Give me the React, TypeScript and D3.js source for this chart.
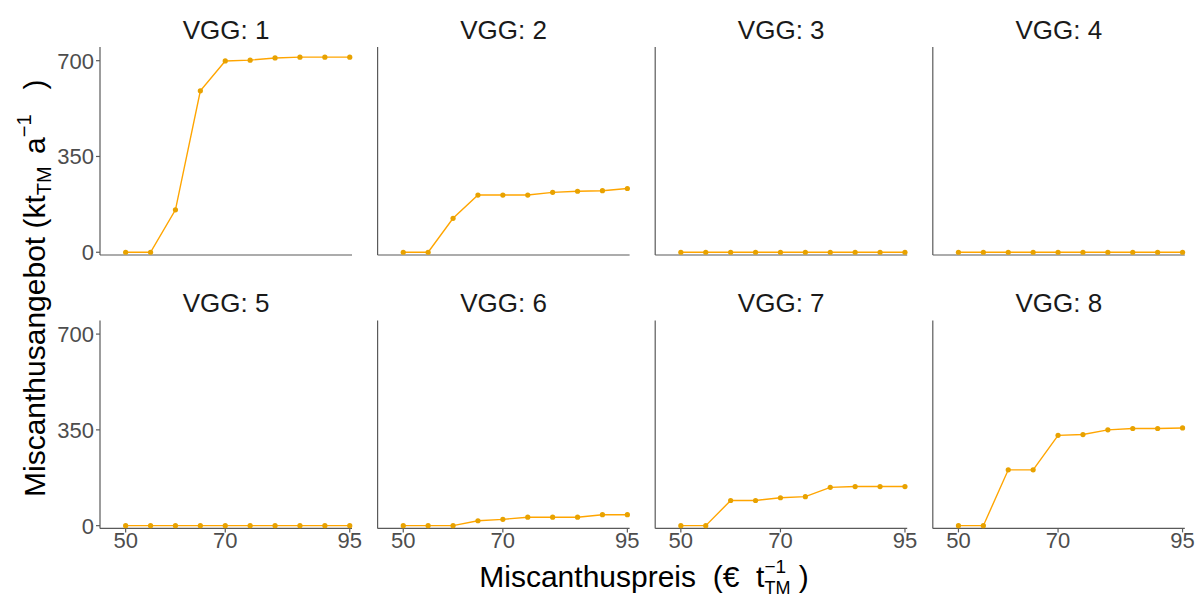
import React from "react";
import * as d3 from "d3";

const prices = [50, 55, 60, 65, 70, 75, 80, 85, 90, 95];
const vgg1 = [0, 0, 155, 590, 699, 702, 710, 713, 713, 713];
const vgg2 = [0, 0, 124, 209, 209, 209, 219, 223, 225, 233];
const vgg3 = [0, 0, 0, 0, 0, 0, 0, 0, 0, 0];
const vgg4 = [0, 0, 0, 0, 0, 0, 0, 0, 0, 0];
const vgg5 = [0, 0, 0, 0, 0, 0, 0, 0, 0, 0];
const vgg6 = [0, 0, 0, 18, 23, 31, 31, 31, 40, 40];
const vgg7 = [0, 0, 92, 92, 102, 106, 140, 143, 143, 143];
const vgg8 = [0, 0, 204, 204, 330, 333, 350, 355, 355, 357];
const panelLabels = ["VGG: 1", "VGG: 2", "VGG: 3", "VGG: 4", "VGG: 5", "VGG: 6", "VGG: 7", "VGG: 8"];
const panelValues = [vgg1, vgg2, vgg3, vgg4, vgg5, vgg6, vgg7, vgg8];
const xTicks = [50, 70, 95];
const yTicks = [0, 350, 700];

const FONT = "'Liberation Sans', Arial, Helvetica, sans-serif";
const W = 1204;
const H = 599;
const PANEL_W = 252;
const PANEL_H = 208;
const colLeft = (c: number) => 100 + c * 277.6;
const rowTop = (r: number) => 47 + r * 273.4;

function measure(text: string, size: number) {
  if (typeof document === "undefined") return text.length * size * 0.55;
  const c = document.createElement("canvas").getContext("2d");
  if (!c) return text.length * size * 0.55;
  c.font = `${size}px 'Liberation Sans', Arial, sans-serif`;
  return c.measureText(text).width;
}

export default function App() {
  const x = d3.scaleLinear().domain([44.85, 95.45]).range([0, PANEL_W]);
  const y = d3.scaleLinear().domain([-10, 750]).range([PANEL_H, 0]);
  const axisColor = "#5a5a5a";
  const tickColor = "#4d4d4d";
  const lineColor = "#FFA500";
  const pointColor = "#E8A200";

  const supW = measure("\u22121", 19);

  return (
    <svg
      width={W}
      height={H}
      style={{ position: "absolute", left: 0, top: 0, display: "block", background: "#fff" }}
      fontFamily={FONT}
    >
      {panelValues.map((vals, i) => {
        const r = Math.floor(i / 4);
        const c = i % 4;
        const left = colLeft(c);
        const top = rowTop(r);
        const data = prices.map((p, k) => ({ p, v: vals[k] }));
        const line = d3
          .line<{ p: number; v: number }>()
          .x((d) => x(d.p))
          .y((d) => y(d.v));
        return (
          <g key={i} transform={`translate(${left},${top})`}>
            <text
              x={PANEL_W / 2}
              y={-8}
              textAnchor="middle"
              fontSize={26}
              fill="#1a1a1a"
            >
              {panelLabels[i]}
            </text>
            <line x1={0} x2={0} y1={0} y2={PANEL_H} stroke={axisColor} strokeWidth={1.2} />
            <line x1={0} x2={PANEL_W} y1={PANEL_H} y2={PANEL_H} stroke={axisColor} strokeWidth={1.2} />
            {c === 0 &&
              yTicks.map((t) => (
                <g key={t} transform={`translate(0,${y(t)})`}>
                  <line x1={-4} x2={0} stroke={axisColor} strokeWidth={1.2} />
                  <text x={-6} dy="0.36em" textAnchor="end" fontSize={22} fill={tickColor}>
                    {t}
                  </text>
                </g>
              ))}
            {r === 1 &&
              xTicks.map((t) => (
                <g key={t} transform={`translate(${x(t)},${PANEL_H})`}>
                  <line y1={0} y2={4} stroke={axisColor} strokeWidth={1.2} />
                  <text y={20} textAnchor="middle" fontSize={22} fill={tickColor}>
                    {t}
                  </text>
                </g>
              ))}
            <path d={line(data) || ""} fill="none" stroke={lineColor} strokeWidth={1.4} />
            {data.map((d, k) => (
              <circle key={k} cx={x(d.p)} cy={y(d.v)} r={2.6} fill={pointColor} />
            ))}
          </g>
        );
      })}

      {/* y axis title */}
      <text
        transform={`translate(45,497) rotate(-90)`}
        textAnchor="start"
        fontSize={30}
        fill="#000"
        style={{ whiteSpace: "pre" }}
      >
        <tspan>Miscanthusangebot (kt</tspan>
        <tspan fontSize={20} dy={6}>TM</tspan>
        <tspan dy={-6} dx={4}> a</tspan>
        <tspan fontSize={20} dy={-14}>{"\u22121"}</tspan>
        <tspan dy={14}>{"   )"}</tspan>
      </text>

      {/* x axis title */}
      <text
        x={644}
        y={587}
        textAnchor="middle"
        fontSize={30}
        fill="#000"
        style={{ whiteSpace: "pre" }}
      >
        <tspan>{"Miscanthuspreis  (\u20ac  t"}</tspan>
        <tspan fontSize={19} dy={-14}>{"\u22121"}</tspan>
        <tspan fontSize={18} dx={-supW} dy={21}>TM</tspan>
        <tspan dy={-7}>{" )"}</tspan>
      </text>
    </svg>
  );
}
